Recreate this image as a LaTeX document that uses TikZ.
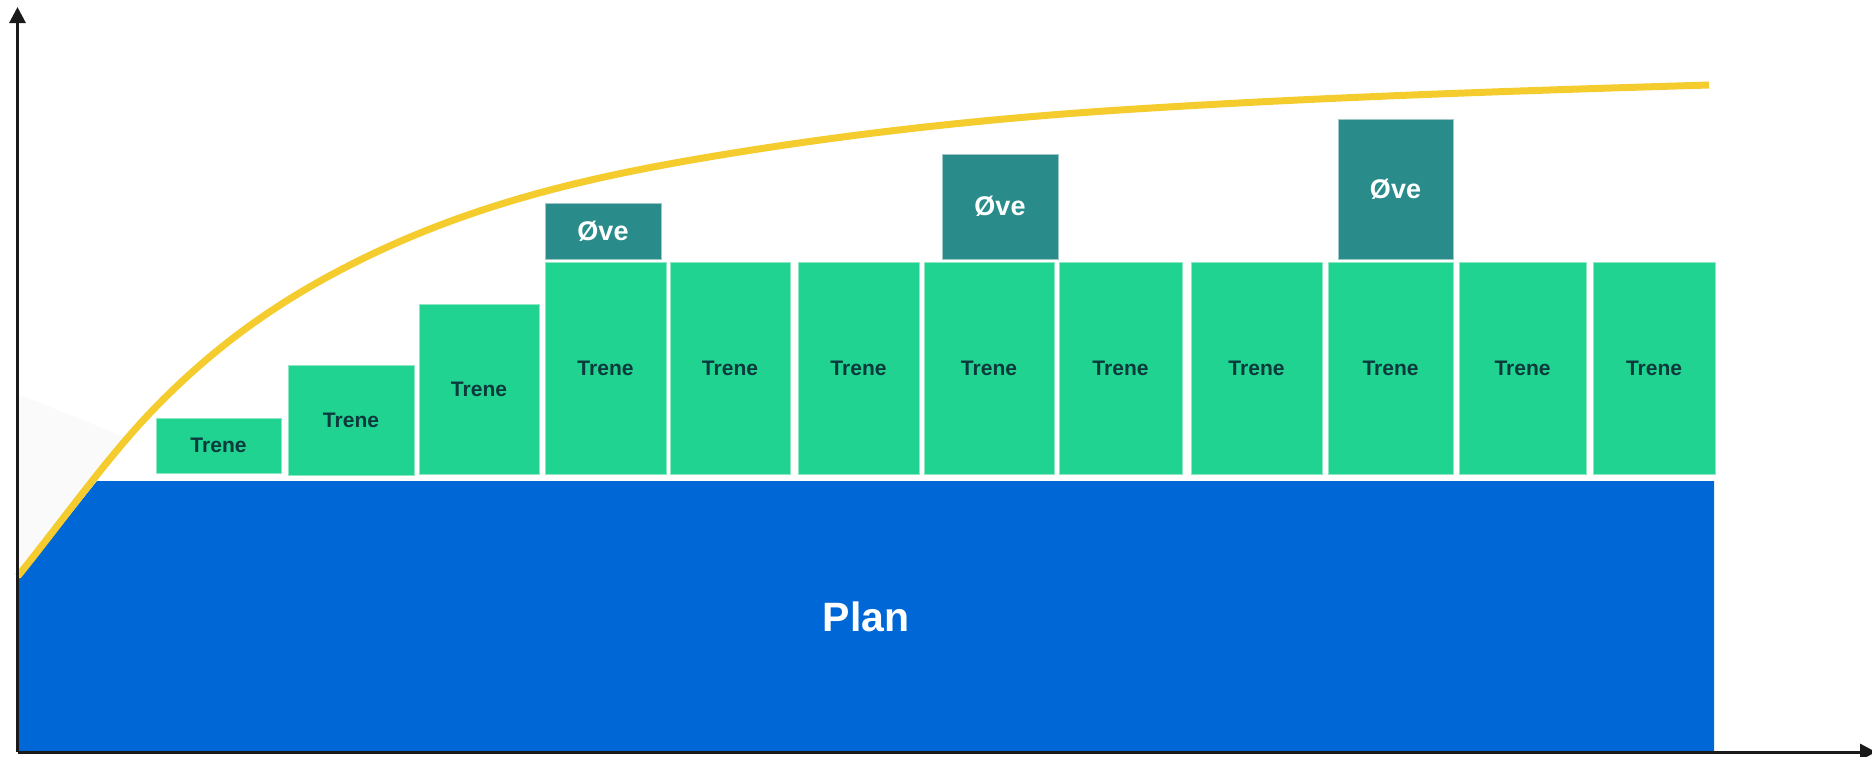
\documentclass[tikz,border=0pt]{standalone}
\usepackage{fontspec}
\setmainfont{Liberation Sans}
\usetikzlibrary{arrows.meta}
\definecolor{trgreen}{HTML}{20D390}
\definecolor{trborder}{HTML}{8FE8C4}
\definecolor{oveteal}{HTML}{298B8A}
\definecolor{ovebord}{HTML}{9CC8C8}
\definecolor{planblue}{HTML}{0067D6}
\definecolor{curveyellow}{HTML}{F4CC2D}
\definecolor{txtdark}{HTML}{0C3A3C}
\definecolor{axisblack}{HTML}{1A1A1A}
\definecolor{faintgray}{HTML}{FAFAFA}
\tikzset{
  trene/.style={rectangle, fill=trgreen, draw=trborder, line width=0.8pt, inner sep=0pt,
    text=txtdark, font=\fontsize{21}{24}\selectfont\bfseries, minimum width=#1},
  ovebox/.style={rectangle, fill=oveteal, draw=ovebord, line width=0.8pt, inner sep=0pt,
    text=white, font=\fontsize{27}{30}\selectfont\bfseries, minimum width=116pt},
  axisline/.style={axisblack, line width=3pt, -{Triangle[length=16pt,width=16pt]}},
}
\begin{document}
\begin{tikzpicture}[x=1pt,y=-1pt]
\useasboundingbox (0,0) rectangle (1872,756);
% faint gray wedge
\fill[faintgray] (18,394) -- (127,438) -- (97,480) -- (18,577) -- cycle;
% blue plan area
\fill[planblue] (18,580) -- (97,481) -- (1714,481) -- (1714,752) -- (18,752) -- cycle;
\node[text=white, font=\fontsize{41}{46}\selectfont\bfseries] (plan) at (866,617) {Plan};
% trene boxes
\node[trene=125pt, minimum height=55pt]  (t1)  at (218.5,445.5) {Trene};
\node[trene=126pt, minimum height=110pt] (t2)  at (351,420)     {Trene};
\node[trene=120pt, minimum height=170pt] (t3)  at (479,389)     {Trene};
\node[trene=121pt, minimum height=212pt] (t4)  at (605.5,368)   {Trene};
\node[trene=120pt, minimum height=212pt] (t5)  at (730,368)     {Trene};
\node[trene=121pt, minimum height=212pt] (t6)  at (858.5,368)   {Trene};
\node[trene=130pt, minimum height=212pt] (t7)  at (989,368)     {Trene};
\node[trene=123pt, minimum height=212pt] (t8)  at (1120.5,368)  {Trene};
\node[trene=131pt, minimum height=212pt] (t9)  at (1256.5,368)  {Trene};
\node[trene=125pt, minimum height=212pt] (t10) at (1390.5,368)  {Trene};
\node[trene=127pt, minimum height=212pt] (t11) at (1522.5,368)  {Trene};
\node[trene=122pt, minimum height=212pt] (t12) at (1654,368)    {Trene};
% ove boxes
\node[ovebox, minimum height=56pt]  (o1) at (603,231)     {Øve};
\node[ovebox, minimum height=105pt] (o2) at (1000,206.5)  {Øve};
\node[ovebox, minimum width=115pt, minimum height=140pt] (o3) at (1395.5,189) {Øve};
% yellow curve
\draw[curveyellow, line width=7pt]
  (18,576) .. controls (62,521.4) and (106,459.2) .. (150,413)
  .. controls (216.7,343) and (283.3,299) .. (350,265)
  .. controls (467.7,205) and (585.3,178) .. (703,158)
  .. controls (842,134.4) and (981,119) .. (1120,110)
  .. controls (1316.3,97.2) and (1512.7,90.9) .. (1709,85);
% axes
\coordinate (origin) at (17.5,752);
\coordinate (ytip) at (17.5,7);
\coordinate (xtip) at (1876,752);
\draw[axisline] (origin) -- (ytip);
\draw[axisline] (origin) -- (xtip);
\end{tikzpicture}
\end{document}
